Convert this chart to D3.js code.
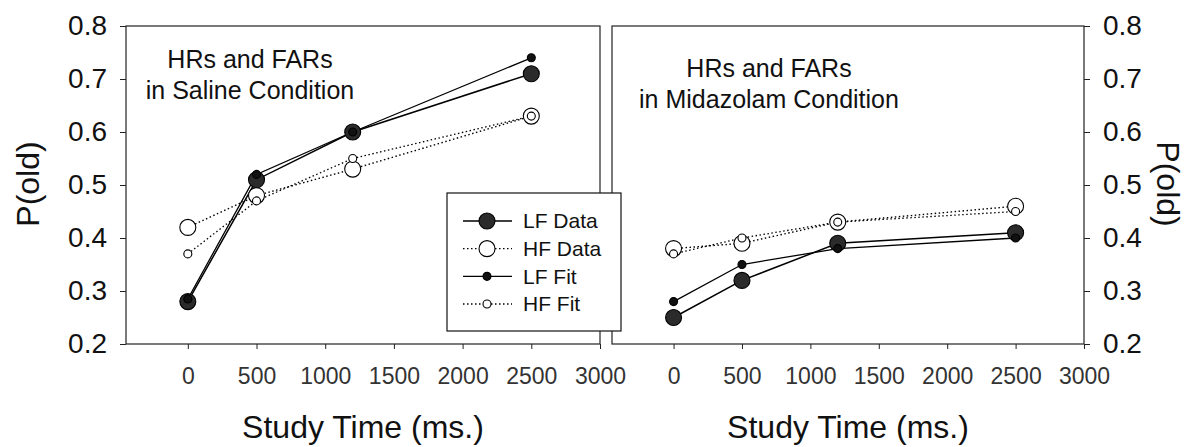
<!DOCTYPE html>
<html>
<head>
<meta charset="utf-8">
<script src="https://cdn.jsdelivr.net/npm/d3@7"></script>
<style>
  body { margin: 0; background: #fff; }
  svg text { font-family: "Liberation Sans", Arial, sans-serif; fill: #111; }
</style>
</head>
<body>
<div id="chart"></div>
<script>
// study time points (ms)
var studyTimes = [0, 500, 1200, 2500];
var xTicks = [0, 500, 1000, 1500, 2000, 2500, 3000];
var yTicks = [0.2, 0.3, 0.4, 0.5, 0.6, 0.7, 0.8];

// saline condition
var salineLFData = [0.28, 0.51, 0.60, 0.71];
var salineHFData = [0.42, 0.48, 0.53, 0.63];
var salineLFFit  = [0.285, 0.52, 0.60, 0.74];
var salineHFFit  = [0.37, 0.47, 0.55, 0.63];

// midazolam condition
var midazLFData = [0.25, 0.32, 0.39, 0.41];
var midazHFData = [0.38, 0.39, 0.43, 0.46];
var midazLFFit  = [0.28, 0.35, 0.38, 0.40];
var midazHFFit  = [0.37, 0.40, 0.43, 0.45];

var legendLabels = ["LF Data", "HF Data", "LF Fit", "HF Fit"];

var width = 1190,
    height = 447;

var svg = d3.select("#chart").append("svg")
    .attr("width", width)
    .attr("height", height);

var y = d3.scaleLinear().domain([0.2, 0.8]).range([344, 26]);

// marker / line styles per series kind
var styles = {
  lfData: { r: 8, fill: "#2b2b2b", dash: null, width: 1.5 },
  hfData: { r: 8, fill: "#fff", dash: "1.5,2.5", width: 1.4 },
  lfFit:  { r: 4, fill: "#111", dash: null, width: 1.3 },
  hfFit:  { r: 4, fill: "#fff", dash: "1.5,2.5", width: 1.3 }
};
var order = ["lfData", "hfData", "lfFit", "hfFit"];

function drawPanel(x, series, side, title) {
  var g = svg.append("g");
  var x0 = x.range()[0], x1 = x.range()[1];

  // frame
  g.append("rect")
    .attr("x", x0).attr("y", y.range()[1])
    .attr("width", x1 - x0).attr("height", y.range()[0] - y.range()[1])
    .attr("fill", "none").attr("stroke", "#222").attr("stroke-width", 1.2);

  var xAxis = g.append("g")
    .attr("transform", "translate(0," + y.range()[0] + ")")
    .call(d3.axisBottom(x).tickValues(xTicks).tickFormat(d3.format("d"))
      .tickSize(5).tickSizeOuter(0).tickPadding(19));
  xAxis.select(".domain").remove();
  xAxis.selectAll("text").style("font-size", "23px").style("fill", "#333");
  xAxis.selectAll("line").attr("stroke", "#222");

  var yAxisFn = side === "left" ? d3.axisLeft(y) : d3.axisRight(y);
  var yAxis = g.append("g")
    .attr("transform", "translate(" + (side === "left" ? x0 : x1) + ",0)")
    .call(yAxisFn.tickValues(yTicks).tickFormat(d3.format(".1f"))
      .tickSize(6).tickSizeOuter(0).tickPadding(13));
  yAxis.select(".domain").remove();
  yAxis.selectAll("text").style("font-size", "28px");
  yAxis.selectAll("line").attr("stroke", "#222");

  // lines then markers
  order.forEach(function(key) {
    var st = styles[key];
    var pts = studyTimes.map(function(t, i) { return [t, series[key][i]]; });
    g.append("path")
      .datum(pts)
      .attr("d", d3.line().x(function(d) { return x(d[0]); }).y(function(d) { return y(d[1]); }))
      .attr("fill", "none")
      .attr("stroke", "#000")
      .attr("stroke-width", st.width)
      .attr("stroke-dasharray", st.dash);
  });
  order.forEach(function(key) {
    var st = styles[key];
    g.selectAll(null)
      .data(studyTimes.map(function(t, i) { return [t, series[key][i]]; }))
      .enter().append("circle")
      .attr("cx", function(d) { return x(d[0]); })
      .attr("cy", function(d) { return y(d[1]); })
      .attr("r", st.r)
      .attr("fill", st.fill)
      .attr("stroke", "#000")
      .attr("stroke-width", 1.1);
  });

  // title
  var t = g.append("text")
    .attr("x", title.x)
    .attr("text-anchor", "middle")
    .style("font-size", "25px");
  t.append("tspan").attr("x", title.x).attr("y", title.y).text(title.lines[0]);
  t.append("tspan").attr("x", title.x).attr("y", title.y + 31).text(title.lines[1]);

  // x label
  g.append("text")
    .attr("x", (x0 + x1) / 2)
    .attr("y", 438)
    .attr("text-anchor", "middle")
    .style("font-size", "32px")
    .text("Study Time (ms.)");

  // y label
  var lx = side === "left" ? 28 : 1168;
  g.append("text")
    .attr("transform", "translate(" + lx + "," + 184 + ") rotate(" + (side === "left" ? -90 : 90) + ")")
    .attr("text-anchor", "middle")
    .attr("dy", "0.35em")
    .style("font-size", "32px")
    .text("P(old)");
}

var xLeft = d3.scaleLinear().domain([-450, 3000]).range([126, 600]);
var xRight = d3.scaleLinear().domain([-450, 3000]).range([612, 1084]);

drawPanel(xLeft,
  { lfData: salineLFData, hfData: salineHFData, lfFit: salineLFFit, hfFit: salineHFFit },
  "left", { x: 250, y: 68, lines: ["HRs and FARs", "in Saline Condition"] });

drawPanel(xRight,
  { lfData: midazLFData, hfData: midazHFData, lfFit: midazLFFit, hfFit: midazHFFit },
  "right", { x: 769, y: 77, lines: ["HRs and FARs", "in Midazolam Condition"] });

// legend, drawn over both panels
var legend = svg.append("g").attr("transform", "translate(447,193)");
legend.append("rect")
  .attr("width", 174).attr("height", 138)
  .attr("fill", "#fff").attr("stroke", "#111").attr("stroke-width", 1.2);

var ly = d3.scalePoint().domain(legendLabels).range([28, 111]);
legendLabels.forEach(function(lab, i) {
  var st = styles[order[i]];
  var row = legend.append("g").attr("transform", "translate(0," + ly(lab) + ")");
  row.append("line")
    .attr("x1", 16).attr("x2", 65)
    .attr("stroke", "#000").attr("stroke-width", st.width)
    .attr("stroke-dasharray", st.dash);
  row.append("circle")
    .attr("cx", 40).attr("r", st.r)
    .attr("fill", st.fill).attr("stroke", "#000").attr("stroke-width", 1.1);
  row.append("text")
    .attr("x", 76).attr("dy", "0.35em")
    .style("font-size", "21px")
    .text(lab);
});
</script>
</body>
</html>
